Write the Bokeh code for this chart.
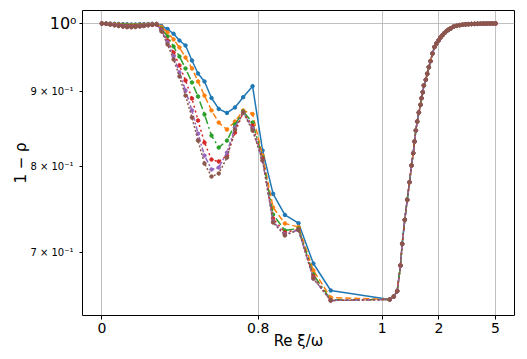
import numpy as np
from bokeh.plotting import figure
from bokeh.models import FixedTicker, LogAxis, Range1d
from bokeh.embed import file_html
from bokeh.resources import INLINE

# ---- axis ticks -------------------------------------------------------
X_TICK_VALUES = [0, 0.8, 1, 2, 5]
X_TICK_LABELS = ["0", "0.8", "1", "2", "5"]
X_TICK_AXIS = [0.0, 0.8, 1.434, 1.724, 2.014]   # where each tick sits on the warped axis

Y_TICK_VALUES = [0.7, 0.8, 0.9]
Y_TICK_LABELS = ["7 × 10⁻¹", "8 × 10⁻¹", "9 × 10⁻¹"]
Y_MAJOR_VALUE = 1.0
Y_MAJOR_LABEL = "10⁰"

# ---- data: Re xi / omega ---------------------------------------------
xi_low = [0, 0.022, 0.043, 0.065, 0.086, 0.108, 0.129, 0.151, 0.172, 0.194,
          0.215, 0.237, 0.258, 0.280, 0.305, 0.336, 0.367, 0.397, 0.428, 0.461,
          0.492, 0.525, 0.561, 0.598, 0.640, 0.681, 0.723, 0.771, 0.807, 0.824,
          0.843, 0.865, 0.889, 0.917]
xi_high = [1.134, 1.205, 1.265, 1.323, 1.353, 1.399, 1.442, 1.482, 1.518, 1.548,
           1.571, 1.594, 1.618, 1.647, 1.677, 1.694, 1.717, 1.735, 1.770, 1.795,
           1.823, 1.853, 1.888, 1.923, 1.958, 1.995, 2.09, 2.196, 2.30, 2.407,
           2.513, 2.619, 2.778, 2.937, 3.095, 3.254, 3.413, 3.571, 3.730, 3.889,
           4.048, 4.206, 4.365, 4.524, 4.683, 4.841, 5.0]

# common branch for xi > 1 (all curves coincide)
rho_high = [0.651, 0.654, 0.6595, 0.6863, 0.7099, 0.7369, 0.7602, 0.7813, 0.8019, 0.8173,
            0.8323, 0.8467, 0.8586, 0.8707, 0.8812, 0.8903, 0.8987, 0.9081, 0.9162, 0.9248,
            0.9343, 0.9431, 0.9544, 0.9641, 0.9694, 0.9739, 0.9785, 0.9820, 0.9853, 0.9882,
            0.9904, 0.9922, 0.9950, 0.9964, 0.9974, 0.9981, 0.9986, 0.9989, 0.9992, 0.9994,
            0.9995, 0.9997, 0.9998, 0.9999, 1.0, 1.0, 1.0]

s1_low = [1.0, 1.0, 0.9998, 0.9995, 0.9993, 0.999, 0.9988, 0.9985, 0.9985, 0.999,
          0.999, 0.9992, 0.9995, 0.9995, 0.9961, 0.9915, 0.9841, 0.9739, 0.9664, 0.9441,
          0.9252, 0.9138, 0.8906, 0.8756, 0.8701, 0.8776, 0.8917, 0.9071, 0.8208, 0.7673,
          0.7425, 0.7330, 0.6885, 0.6602]
s2_low = [1.0, 0.9998, 0.9995, 0.999, 0.9985, 0.998, 0.9978, 0.9975, 0.9975, 0.998,
          0.998, 0.9985, 0.999, 0.9992, 0.9946, 0.9861, 0.9754, 0.9634, 0.9485, 0.9324,
          0.9138, 0.8939, 0.8735, 0.8572, 0.8479, 0.8585, 0.8735, 0.8687, 0.8143, 0.7511,
          0.7327, 0.7287, 0.6811, 0.6530]
s3_low = [1.0, 0.9997, 0.999, 0.9985, 0.998, 0.9975, 0.997, 0.9968, 0.9968, 0.9972,
          0.9975, 0.998, 0.9985, 0.9988, 0.9922, 0.9800, 0.9648, 0.9500, 0.9324, 0.9124,
          0.8927, 0.8681, 0.8400, 0.8245, 0.8335, 0.8545, 0.8721, 0.8572, 0.8118, 0.7430,
          0.7248, 0.7270, 0.6768, 0.6506]
s4_low = [1.0, 0.9996, 0.9988, 0.998, 0.9973, 0.9965, 0.996, 0.9958, 0.996, 0.9965,
          0.997, 0.9978, 0.9982, 0.9985, 0.9907, 0.9739, 0.9559, 0.9368, 0.9152, 0.8899,
          0.8599, 0.8309, 0.8093, 0.8068, 0.8143, 0.8439, 0.8708, 0.8532, 0.8105, 0.7384,
          0.7225, 0.7259, 0.6747, 0.6500]
s5_low = [1.0, 0.9995, 0.9985, 0.9975, 0.9965, 0.9958, 0.995, 0.9948, 0.995, 0.9958,
          0.9965, 0.9975, 0.998, 0.9984, 0.9892, 0.9709, 0.9500, 0.9266, 0.9010, 0.8735,
          0.8426, 0.8143, 0.7968, 0.7993, 0.8181, 0.8505, 0.8708, 0.8492, 0.8080, 0.7350,
          0.7203, 0.7253, 0.6726, 0.6500]
s6_low = [1.0, 0.9994, 0.9982, 0.997, 0.996, 0.995, 0.9942, 0.994, 0.9945, 0.9952,
          0.996, 0.997, 0.9978, 0.9984, 0.9876, 0.9679, 0.9456, 0.9209, 0.8939, 0.8639,
          0.8335, 0.8043, 0.7882, 0.7919, 0.8118, 0.8479, 0.8708, 0.8466, 0.8080, 0.7338,
          0.7192, 0.7253, 0.6726, 0.6500]

SERIES = [s1_low, s2_low, s3_low, s4_low, s5_low, s6_low]
COLORS = ["#1f77b4", "#ff7f0e", "#2ca02c", "#d62728", "#9467bd", "#8c564b"]
DASHES = ["solid", "6 3", "8 3 2 3", "2 3", "5 2 2 2", "2 2"]


def to_axis(x):
    return np.interp(np.asarray(x, dtype=float), X_TICK_VALUES, X_TICK_AXIS)


FONT = "DejaVu Sans"

p = figure(width=527, height=359, output_backend="svg", toolbar_location=None,
           y_axis_type="log",
           x_range=Range1d(-0.099, 2.111), y_range=Range1d(0.635, 1.0204),
           min_border_left=82, min_border_right=13, min_border_top=10,
           min_border_bottom=44)

p.background_fill_color = "white"
p.border_fill_color = "white"
p.outline_line_color = "black"
p.outline_line_width = 1

xs = to_axis(xi_low + xi_high)
for ys_low, c, d in zip(SERIES, COLORS, DASHES):
    ys = ys_low + rho_high
    p.line(xs, ys, line_color=c, line_width=1.5, line_dash=d)
    p.scatter(xs, ys, size=3.5, fill_color=c, line_color=c)

# x axis
p.xaxis.ticker = FixedTicker(ticks=X_TICK_AXIS)
p.xaxis.major_label_overrides = {t: l for t, l in zip(X_TICK_AXIS, X_TICK_LABELS)}
p.xaxis.minor_tick_line_color = None
p.xaxis.major_tick_out = 4
p.xaxis.major_tick_in = 0
p.xaxis.major_label_standoff = 3
p.xaxis.major_label_text_font = FONT
p.xaxis.major_label_text_font_size = "14px"
p.xaxis.major_label_text_color = "black"
p.xaxis.axis_label = "Re ξ/ω"
p.xaxis.axis_label_text_font = FONT
p.xaxis.axis_label_text_font_style = "normal"
p.xaxis.axis_label_text_font_size = "15px"
p.xaxis.axis_label_text_color = "black"
p.xaxis.axis_label_standoff = -4
p.xaxis.axis_line_color = None

# y axis (minor-style labels)
ticks_y = Y_TICK_VALUES + [Y_MAJOR_VALUE]
p.yaxis.ticker = FixedTicker(ticks=ticks_y)
ov = {t: l for t, l in zip(Y_TICK_VALUES, Y_TICK_LABELS)}
ov[Y_MAJOR_VALUE] = " "
p.yaxis.major_label_overrides = ov
p.yaxis.minor_tick_line_color = None
p.yaxis.major_tick_out = 3
p.yaxis.major_tick_in = 0
p.yaxis.major_label_standoff = 6
p.yaxis.major_label_text_font = FONT
p.yaxis.major_label_text_font_size = "10px"
p.yaxis.major_label_text_color = "black"
p.yaxis.axis_label = "1 − ρ"
p.yaxis.axis_label_text_font = FONT
p.yaxis.axis_label_text_font_style = "normal"
p.yaxis.axis_label_text_font_size = "15px"
p.yaxis.axis_label_text_color = "black"
p.yaxis.axis_label_standoff = -3
p.yaxis.axis_line_color = None

# second axis carrying only the large 10^0 label
ax_major = LogAxis(ticker=FixedTicker(ticks=[Y_MAJOR_VALUE]),
                   major_label_overrides={Y_MAJOR_VALUE: Y_MAJOR_LABEL},
                   major_label_text_font=FONT, major_label_text_font_size="16px",
                   major_label_text_color="black",
                   major_tick_line_color=None, minor_tick_line_color=None,
                   axis_line_color=None, major_tick_out=0, major_tick_in=0,
                   major_label_standoff=-67)
p.add_layout(ax_major, "left")

# grids
p.xgrid.ticker = FixedTicker(ticks=X_TICK_AXIS)
p.xgrid.grid_line_color = "#b0b0b0"
p.xgrid.grid_line_width = 0.8
p.ygrid.ticker = FixedTicker(ticks=[Y_MAJOR_VALUE])
p.ygrid.grid_line_color = "#b0b0b0"
p.ygrid.grid_line_width = 0.8

open("out.html", "w").write(file_html(p, INLINE))
